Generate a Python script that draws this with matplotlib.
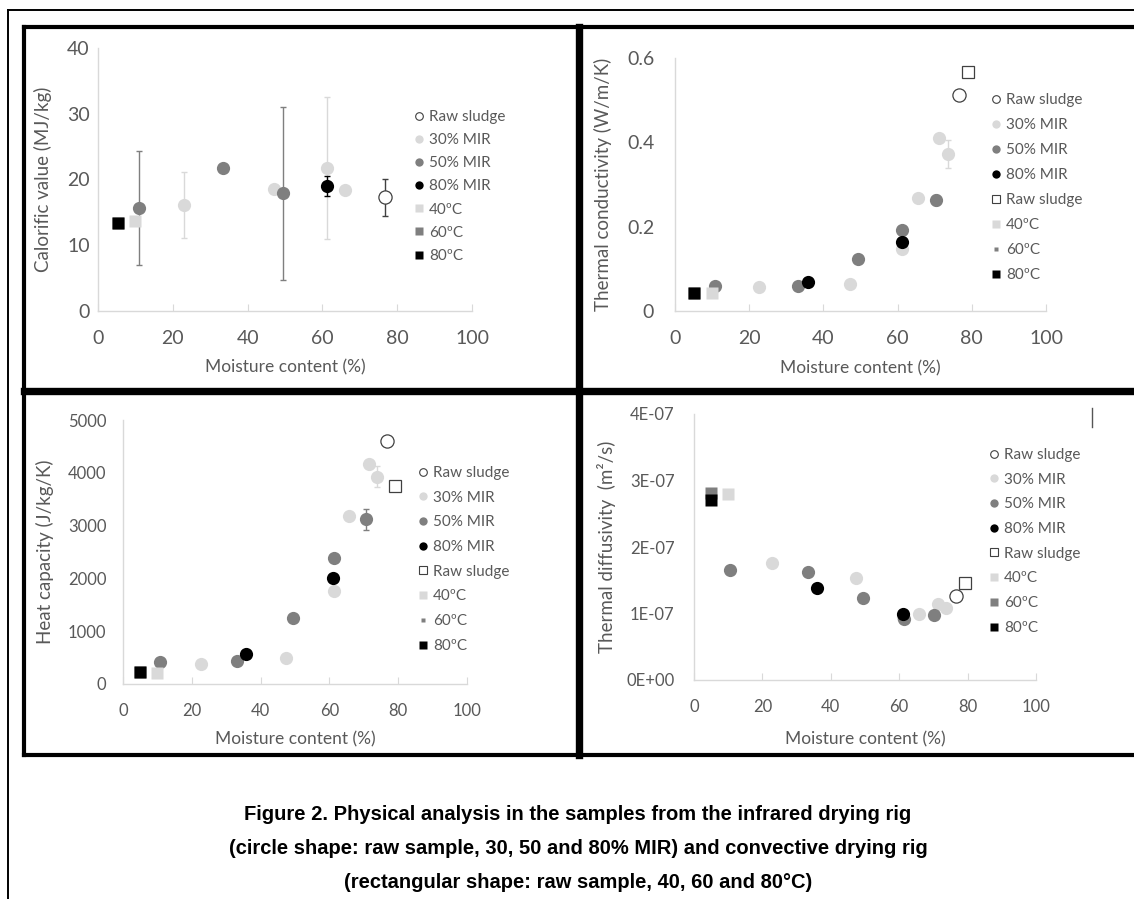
import matplotlib
matplotlib.use('Agg')
import matplotlib.pyplot as plt
from matplotlib.lines import Line2D

plt.rcParams['font.family'] = ['Lato', 'DejaVu Sans']

W, H = 1134, 899

# ---- data ----
# (moisture content %, value, error)

# calorific value (MJ/kg)
cv_raw_x, cv_raw_y, cv_raw_e = [76.8], [17.3], [2.8]
cv_30_x = [22.9, 47.1, 61.2, 66.1]
cv_30_y = [16.1, 18.6, 21.8, 18.4]
cv_30_e = [5.0, 0, 10.8, 0]
cv_50_x = [10.9, 33.4, 49.5]
cv_50_y = [15.7, 21.8, 17.9]
cv_50_e = [8.7, 0, 13.2]
cv_80_x, cv_80_y, cv_80_e = [61.2], [19.0], [1.5]
cv_40c_x, cv_40c_y = [10.0], [13.7]
cv_60c_x, cv_60c_y = [5.3], [13.4]
cv_80c_x, cv_80c_y = [5.3], [13.4]

# thermal conductivity (W/m/K)
tc_raw_x, tc_raw_y = [76.6], [0.512]
tc_30_x = [22.6, 47.2, 61.3, 65.6, 71.2, 73.7]
tc_30_y = [0.058, 0.063, 0.146, 0.269, 0.411, 0.372]
tc_30_e = [0, 0, 0, 0, 0, 0.034]
tc_50_x = [10.8, 33.2, 49.2, 61.3, 70.4]
tc_50_y = [0.060, 0.060, 0.123, 0.192, 0.264]
tc_50_e = [0, 0, 0, 0, 0.012]
tc_80_x, tc_80_y = [35.8, 61.1], [0.068, 0.164]
tc_rawsq_x, tc_rawsq_y = [78.9], [0.567]
tc_40c_x, tc_40c_y = [9.9], [0.043]
tc_60c_x, tc_60c_y = [5.1], [0.042]
tc_80c_x, tc_80c_y = [5.1], [0.042]

# heat capacity (J/kg/K)
hc_raw_x, hc_raw_y = [76.7], [4602]
hc_30_x = [22.8, 47.3, 61.4, 65.8, 71.4, 73.8]
hc_30_y = [379, 486, 1768, 3182, 4167, 3927]
hc_30_e = [0, 0, 0, 80, 0, 200]
hc_50_x = [10.7, 33.2, 49.3, 61.4, 70.6]
hc_50_y = [423, 436, 1244, 2393, 3119]
hc_50_e = [0, 0, 0, 0, 200]
hc_80_x, hc_80_y = [35.7, 61.0], [562, 2014]
hc_rawsq_x, hc_rawsq_y = [79.1], [3750]
hc_40c_x, hc_40c_y = [9.9], [215]
hc_60c_x, hc_60c_y = [4.9], [234]
hc_80c_x, hc_80c_y = [4.9], [234]

# thermal diffusivity (m2/s)
td_raw_x, td_raw_y = [76.6], [1.27e-7]
td_30_x = [22.7, 47.3, 61.2, 65.9, 71.3, 73.8]
td_30_y = [1.76e-7, 1.53e-7, 0.95e-7, 0.99e-7, 1.14e-7, 1.08e-7]
td_50_x = [10.5, 33.2, 49.3, 61.3, 70.2]
td_50_y = [1.65e-7, 1.63e-7, 1.23e-7, 0.91e-7, 0.97e-7]
td_80_x, td_80_y = [35.9, 61.0], [1.38e-7, 0.99e-7]
td_rawsq_x, td_rawsq_y = [79.1], [1.46e-7]
td_40c_x, td_40c_y = [9.9], [2.80e-7]
td_60c_x, td_60c_y = [4.9], [2.81e-7]
td_80c_x, td_80c_y = [4.9], [2.70e-7]

td_ticks = [0, 1e-7, 2e-7, 3e-7, 4e-7]
td_ticklabels = ['0E+00', '1E-07', '2E-07', '3E-07', '4E-07']

labels_ir = ['Raw sludge', '30% MIR', '50% MIR', '80% MIR']
labels_cv = ['Raw sludge', '40ºC', '60ºC', '80ºC']

caption = ['Figure 2. Physical analysis in the samples from the infrared drying rig',
           '(circle shape: raw sample, 30, 50 and 80% MIR) and convective drying rig',
           '(rectangular shape: raw sample, 40, 60 and 80°C)']

LIGHT = '#d9d9d9'
MID = '#7f7f7f'
DARK = '#000000'
TXT = '#595959'
AXC = '#d9d9d9'


def fx(x):
    return x / W


def fy(y):
    return 1 - y / H


fig = plt.figure(figsize=(W / 100, H / 100), dpi=100)


def make_ax(l, r, t, b):
    ax = fig.add_axes([fx(l), fy(b), fx(r) - fx(l), fy(t) - fy(b)])
    for s in ['top', 'right']:
        ax.spines[s].set_visible(False)
    for s in ['left', 'bottom']:
        ax.spines[s].set_color(AXC)
        ax.spines[s].set_linewidth(1.0)
    ax.set_xlim(0, 100)
    ax.set_xticks([0, 20, 40, 60, 80, 100])
    ax.tick_params(axis='x', direction='in', length=5, color=AXC, labelcolor=TXT)
    ax.tick_params(axis='y', length=0, labelcolor=TXT)
    ax.patch.set_alpha(0)
    return ax


def pts(ax, x, y, color, marker='o', ms=9.5, err=None, open_=False, z=3):
    if err is not None:
        ax.errorbar(x, y, yerr=err, fmt='none', ecolor=color if not open_ else '#404040',
                    elinewidth=1.0, capsize=2.5, capthick=1.0, zorder=z)
    if open_:
        ax.plot(x, y, ls='none', marker=marker, ms=ms, mfc='white', mec='#404040',
                mew=0.9, zorder=z)
    else:
        ax.plot(x, y, ls='none', marker=marker, ms=ms, mfc=color, mec='none', zorder=z)


def legend(ax, with_sq, x, y, spacing, small60=False):
    h = [Line2D([], [], ls='none', marker='o', ms=5.5, mfc='white', mec='#404040', mew=0.8),
         Line2D([], [], ls='none', marker='o', ms=6, mfc=LIGHT, mec='none'),
         Line2D([], [], ls='none', marker='o', ms=6, mfc=MID, mec='none'),
         Line2D([], [], ls='none', marker='o', ms=6, mfc=DARK, mec='none')]
    lab = list(labels_ir)
    if with_sq:
        h.append(Line2D([], [], ls='none', marker='s', ms=5.5, mfc='white', mec='#404040', mew=0.8))
        lab.append(labels_cv[0])
    h += [Line2D([], [], ls='none', marker='s', ms=6, mfc=LIGHT, mec='none'),
          Line2D([], [], ls='none', marker='s', ms=3.5 if small60 else 6, mfc=MID, mec='none'),
          Line2D([], [], ls='none', marker='s', ms=6, mfc=DARK, mec='none')]
    lab += labels_cv[1:]
    lg = ax.legend(h, lab, loc='upper left', bbox_to_anchor=(fx(x), fy(y)),
                   bbox_transform=fig.transFigure, frameon=False, fontsize=11,
                   handlelength=0.8, handletextpad=0.25, labelspacing=spacing,
                   borderpad=0, borderaxespad=0)
    for t in lg.get_texts():
        t.set_color(TXT)


def labels(ax, xl, yl, xlab_y, ylab_x, l, r, t, b):
    ax.set_xlabel(xl, fontsize=12.5, color=TXT)
    ax.set_ylabel(yl, fontsize=13.5, color=TXT)
    ax.xaxis.set_label_coords(((l + r) / 2 - l) / (r - l), (b - xlab_y) / (b - t))
    ax.yaxis.set_label_coords((ylab_x - l) / (r - l), ((b + t) / 2 - t) / (b - t))


# ---- panel 1: calorific value ----
L, R, T, B = 98, 472, 48, 311
ax1 = make_ax(L, R, T, B)
ax1.set_ylim(0, 40)
ax1.set_yticks([0, 10, 20, 30, 40])
ax1.tick_params(labelsize=14)
ax1.tick_params(axis='x', pad=14)
ax1.tick_params(axis='y', pad=6)
pts(ax1, cv_raw_x, cv_raw_y, 'white', err=cv_raw_e, open_=True, z=3)
pts(ax1, cv_30_x, cv_30_y, LIGHT, err=cv_30_e, z=4)
pts(ax1, cv_50_x, cv_50_y, MID, err=cv_50_e, z=5)
pts(ax1, cv_80_x, cv_80_y, DARK, err=cv_80_e, z=6)
pts(ax1, cv_40c_x, cv_40c_y, LIGHT, marker='s', ms=9, z=7)
pts(ax1, cv_60c_x, cv_60c_y, MID, marker='s', ms=9, z=8)
pts(ax1, cv_80c_x, cv_80c_y, DARK, marker='s', ms=9, z=9)
labels(ax1, 'Moisture content (%)', 'Calorific value (MJ/kg)', 359, 52, L, R, T, B)
legend(ax1, False, 413, 110, 0.6)

# ---- panel 2: thermal conductivity ----
L, R, T, B = 675, 1046, 58, 311
ax2 = make_ax(L, R, T, B)
ax2.set_ylim(0, 0.6)
ax2.set_yticks([0, 0.2, 0.4, 0.6])
ax2.set_yticklabels(['0', '0.2', '0.4', '0.6'])
ax2.tick_params(labelsize=14)
ax2.tick_params(axis='x', pad=14)
ax2.tick_params(axis='y', pad=15)
pts(ax2, tc_raw_x, tc_raw_y, 'white', open_=True, z=3)
pts(ax2, tc_30_x, tc_30_y, LIGHT, err=tc_30_e, z=4)
pts(ax2, tc_50_x, tc_50_y, MID, err=tc_50_e, z=5)
pts(ax2, tc_80_x, tc_80_y, DARK, z=6)
pts(ax2, tc_rawsq_x, tc_rawsq_y, 'white', marker='s', ms=9, open_=True, z=7)
pts(ax2, tc_40c_x, tc_40c_y, LIGHT, marker='s', ms=9, z=8)
pts(ax2, tc_60c_x, tc_60c_y, MID, marker='s', ms=9, z=9)
pts(ax2, tc_80c_x, tc_80c_y, DARK, marker='s', ms=9, z=10)
labels(ax2, 'Moisture content (%)', 'Thermal conductivity (W/m/K)', 360, 612, L, R, T, B)
legend(ax2, True, 990, 93, 0.72, small60=True)

# ---- panel 3: heat capacity ----
L, R, T, B = 123, 467, 420, 684
ax3 = make_ax(L, R, T, B)
ax3.set_ylim(0, 5000)
ax3.set_yticks([0, 1000, 2000, 3000, 4000, 5000])
ax3.tick_params(labelsize=12)
ax3.tick_params(axis='x', pad=14)
ax3.tick_params(axis='y', pad=12)
pts(ax3, hc_raw_x, hc_raw_y, 'white', open_=True, z=3)
pts(ax3, hc_30_x, hc_30_y, LIGHT, err=hc_30_e, z=4)
pts(ax3, hc_50_x, hc_50_y, MID, err=hc_50_e, z=5)
pts(ax3, hc_80_x, hc_80_y, DARK, z=6)
pts(ax3, hc_rawsq_x, hc_rawsq_y, 'white', marker='s', ms=9, open_=True, z=7)
pts(ax3, hc_40c_x, hc_40c_y, LIGHT, marker='s', ms=9, z=8)
pts(ax3, hc_60c_x, hc_60c_y, MID, marker='s', ms=9, z=9)
pts(ax3, hc_80c_x, hc_80c_y, DARK, marker='s', ms=9, z=10)
labels(ax3, 'Moisture content (%)', 'Heat capacity (J/kg/K)', 731, 54, L, R, T, B)
legend(ax3, True, 417, 466, 0.7, small60=True)

# ---- panel 4: thermal diffusivity ----
L, R, T, B = 694, 1036, 414, 680
ax4 = make_ax(L, R, T, B)
ax4.set_ylim(0, 4e-7)
ax4.set_yticks(td_ticks)
ax4.set_yticklabels(td_ticklabels)
ax4.tick_params(labelsize=12)
ax4.tick_params(axis='x', pad=14)
ax4.tick_params(axis='y', pad=14)
pts(ax4, td_raw_x, td_raw_y, 'white', open_=True, z=3)
pts(ax4, td_30_x, td_30_y, LIGHT, z=4)
pts(ax4, td_50_x, td_50_y, MID, z=5)
pts(ax4, td_80_x, td_80_y, DARK, z=6)
pts(ax4, td_rawsq_x, td_rawsq_y, 'white', marker='s', ms=9, open_=True, z=7)
pts(ax4, td_40c_x, td_40c_y, LIGHT, marker='s', ms=9, z=8)
pts(ax4, td_60c_x, td_60c_y, MID, marker='s', ms=9, z=9)
pts(ax4, td_80c_x, td_80c_y, DARK, marker='s', ms=9, z=10)
labels(ax4, 'Moisture content (%)', 'Thermal diffusivity  (m²/s)', 731, 616, L, R, T, B)
legend(ax4, True, 988, 448, 0.7)


# ---- frame lines of the original page ----
def fline(x0, y0, x1, y1, lw, c='black'):
    fig.add_artist(Line2D([fx(x0), fx(x1)], [fy(y0), fy(y1)], transform=fig.transFigure,
                          color=c, lw=lw, solid_capstyle='projecting'))


fline(8, 10, 1140, 10, 1.4)
fline(8, 10, 8, 905, 1.4)
fline(24, 27, 1140, 27, 3.0)
fline(24, 27, 24, 755, 3.0)
fline(24, 755, 1140, 755, 3.0)
fline(24, 391, 1140, 391, 5.3)
fline(579, 27, 579, 755, 5.3)
fline(1092, 408, 1092, 427, 1.0, c='#555555')

for i, line in enumerate(caption):
    fig.text(fx(578), fy(815 + 34 * i), line, ha='center', va='center', fontsize=14.5,
             fontweight='bold', family=['Liberation Sans', 'DejaVu Sans'], color='black')

fig.savefig('out.png', dpi=100)
